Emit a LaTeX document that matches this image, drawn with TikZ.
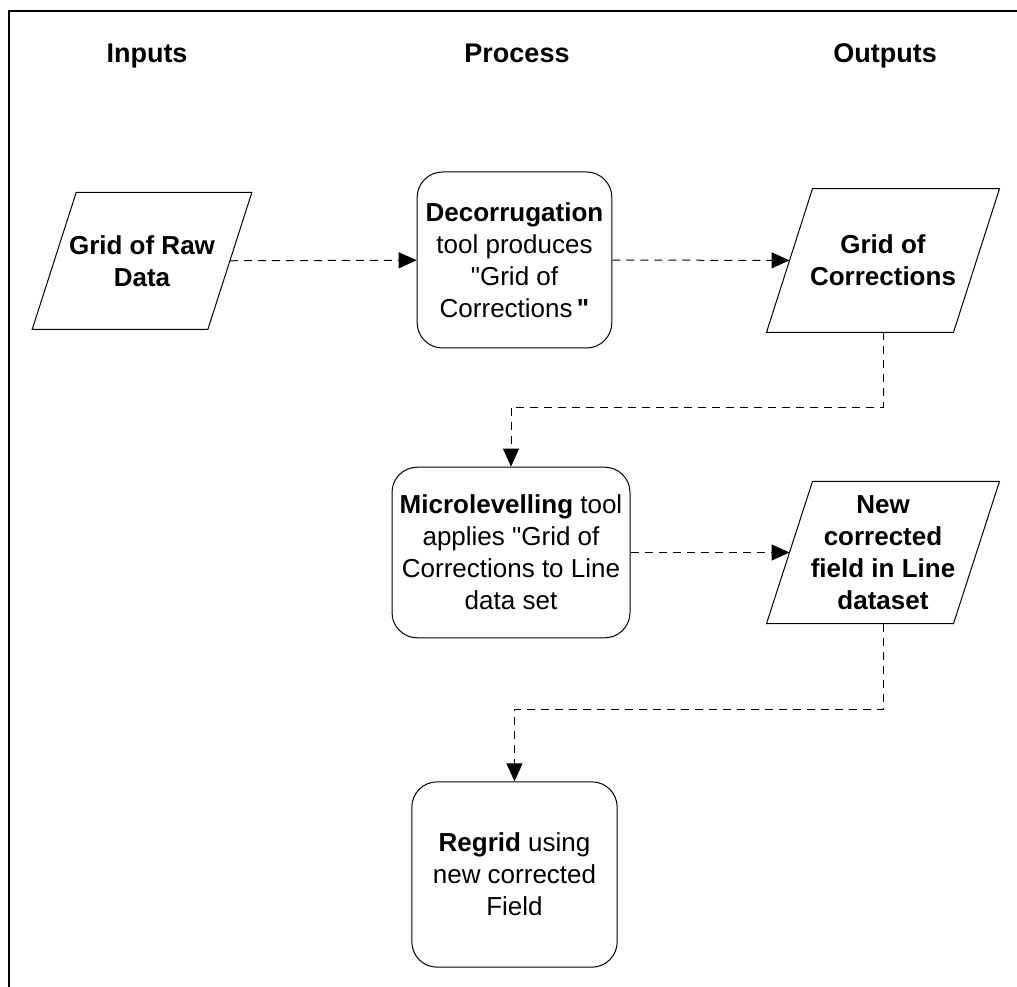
\documentclass[tikz,border=0pt]{standalone}
\usepackage{fontspec}
\newfontfamily\lsans{Liberation Sans}
\usetikzlibrary{calc,arrows.meta}

\newcommand{\bodyfont}{\lsans\fontsize{19.5}{24}\selectfont}
\newcommand{\headfont}{\lsans\fontsize{20.25}{24}\selectfont\bfseries}

\tikzset{every picture/.style={line width=0.75pt}}
\tikzset{
  colhead/.style={font=\headfont, anchor=base},
  procbox/.style={draw, rectangle, rounded corners=19pt, align=center, inner sep=2pt, font=\bodyfont},
  iobox/.style={rectangle, align=center, inner sep=2pt, font=\bodyfont\bfseries},
  flow/.style={dash pattern=on 6pt off 4.5pt, -{Triangle[length=13.5pt,width=12pt]}},
}

\begin{document}
\begin{tikzpicture}[x=0.75pt,y=0.75pt,yscale=-1,xscale=1]
	\path[use as bounding box] (0,0) rectangle (1017,987);

	%Shape: Frame
	\draw [line width=1.5pt] (9,987) -- (9,11) -- (1017,11) ;

	% Text Node
	\node [colhead] (hin) at (147,63) {Inputs};
	% Text Node
	\node [colhead] (hproc) at (517,63) {Process};
	% Text Node
	\node [colhead] (hout) at (885,63) {Outputs};

	% Text Node
	\node [iobox, minimum width=131pt, minimum height=102pt] (raw) at (142,261) {Grid of Raw\\Data};
	%Shape: Parallelogram
	\draw ($(raw.north west)+(22,0)$) -- ($(raw.north east)+(22,0)$) -- ($(raw.south east)-(22,0)$) -- ($(raw.south west)-(22,0)$) -- cycle ;

	%Shape: Rounded Rect
	\node [procbox, minimum width=146pt, minimum height=132pt] (dec) at (514.5,260)
		{\textbf{Decorrugation}\\tool produces\\"Grid of\\Corrections\,\textbf{"}};

	% Text Node
	\node [iobox, minimum width=139.5pt, minimum height=107pt] (corr) at (883,260.5) {Grid of\\Corrections};
	%Shape: Parallelogram
	\draw ($(corr.north west)+(23,0)$) -- ($(corr.north east)+(23,0)$) -- ($(corr.south east)-(23,0)$) -- ($(corr.south west)-(23,0)$) -- cycle ;

	%Shape: Rounded Rect
	\node [procbox, minimum width=178.5pt, minimum height=128pt] (micro) at (511,552.5)
		{\textbf{Microlevelling} tool\\applies "Grid of\\Corrections to Line\\data set};

	% Text Node
	\node [iobox, minimum width=139.5pt, minimum height=106pt] (newf) at (883,552.5) {New\\corrected\\field in Line\\dataset};
	%Shape: Parallelogram
	\draw ($(newf.north west)+(23,0)$) -- ($(newf.north east)+(23,0)$) -- ($(newf.south east)-(23,0)$) -- ($(newf.south west)-(23,0)$) -- cycle ;

	%Shape: Rounded Rect
	\node [procbox, minimum width=154pt, minimum height=139pt] (regrid) at (514.5,874.5)
		{\textbf{Regrid} using\\new corrected\\Field};

	%Straight Lines
	\draw [flow] (raw) -- (dec) ;
	%Straight Lines
	\draw [flow] (dec) -- (corr) ;
	%Elbow Lines
	\draw [flow] (corr.south) -- ++(0,75) -| (micro.north) ;
	%Straight Lines
	\draw [flow] (micro) -- (newf) ;
	%Elbow Lines
	\draw [flow] (newf.south) -- ++(0,86) -| (regrid.north) ;

\end{tikzpicture}
\end{document}
